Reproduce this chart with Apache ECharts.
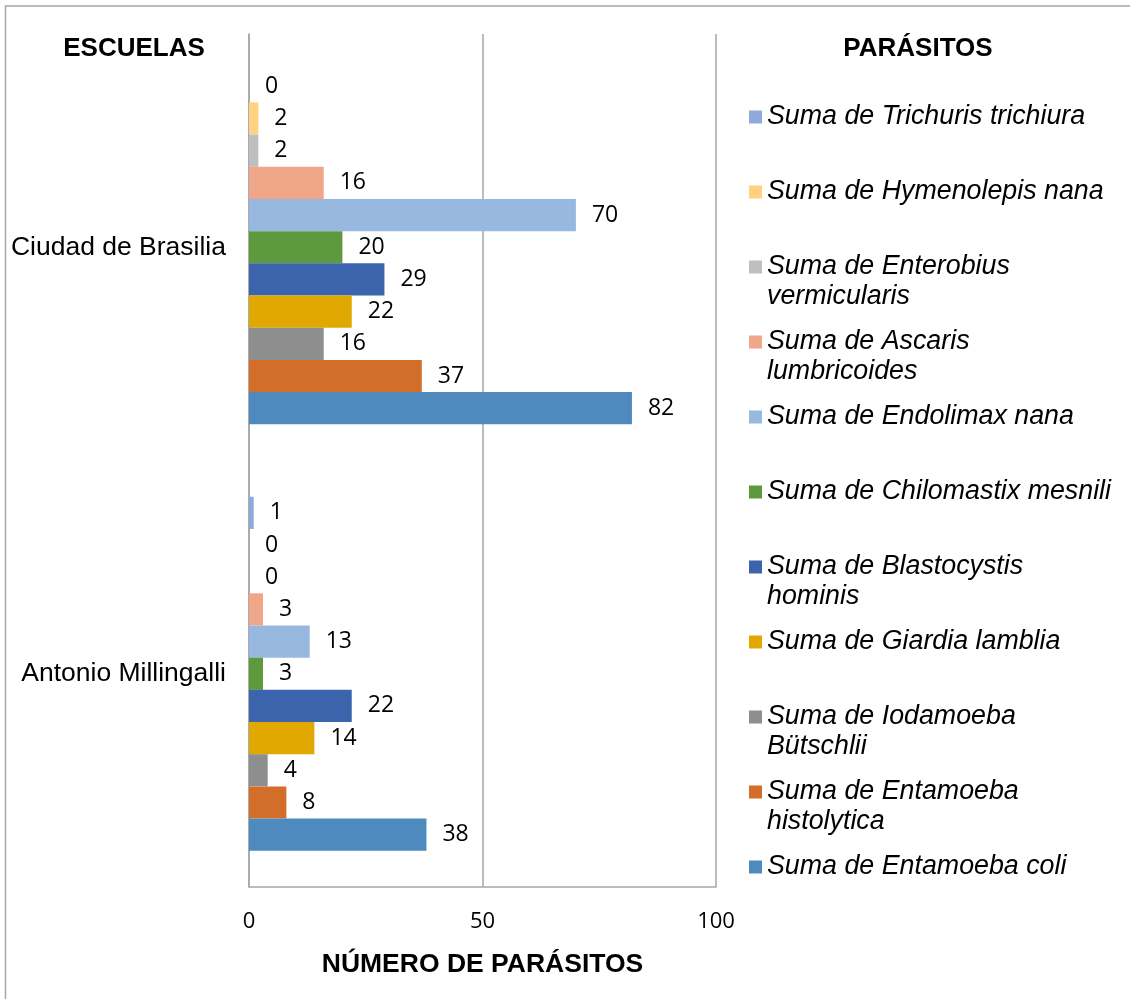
<!DOCTYPE html>
<html>
<head>
<meta charset="utf-8">
<script src="https://cdn.jsdelivr.net/npm/echarts@6/dist/echarts.min.js"></script>
<style>
  html, body { margin: 0; padding: 0; background: #fff; }
  #main { width: 1130px; height: 999px; }
</style>
</head>
<body>
<div id="main"></div>
<script>
// escuelas (de abajo hacia arriba en el eje)
var escuelas = ['Antonio Millingalli', 'Ciudad de Brasilia'];

// parasitos, en el orden de la leyenda (arriba -> abajo)
var parasitos = [
  'Suma de Trichuris trichiura',
  'Suma de Hymenolepis nana',
  'Suma de Enterobius vermicularis',
  'Suma de Ascaris lumbricoides',
  'Suma de Endolimax nana',
  'Suma de Chilomastix mesnili',
  'Suma de Blastocystis hominis',
  'Suma de Giardia lamblia',
  'Suma de Iodamoeba Bütschlii',
  'Suma de Entamoeba histolytica',
  'Suma de Entamoeba coli'
];
// texto de la leyenda con saltos de linea
var textoLeyenda = [
  'Suma de Trichuris trichiura',
  'Suma de Hymenolepis nana',
  'Suma de Enterobius\nvermicularis',
  'Suma de Ascaris\nlumbricoides',
  'Suma de Endolimax nana',
  'Suma de Chilomastix mesnili',
  'Suma de Blastocystis\nhominis',
  'Suma de Giardia lamblia',
  'Suma de Iodamoeba\nBütschlii',
  'Suma de Entamoeba\nhistolytica',
  'Suma de Entamoeba coli'
];

// valores [Antonio Millingalli, Ciudad de Brasilia]
var trichuris    = [1, 0];
var hymenolepis  = [0, 2];
var enterobius   = [0, 2];
var ascaris      = [3, 16];
var endolimax    = [13, 70];
var chilomastix  = [3, 20];
var blastocystis = [22, 29];
var giardia      = [14, 22];
var iodamoeba    = [4, 16];
var histolytica  = [8, 37];
var coli         = [38, 82];

var valores = [trichuris, hymenolepis, enterobius, ascaris, endolimax, chilomastix,
               blastocystis, giardia, iodamoeba, histolytica, coli];

var colores = ['#8EA9DB', '#FFD180', '#BFBFBF', '#F0A688', '#97B9E0', '#5F993E',
               '#3B64AD', '#E0A800', '#8E8E8E', '#D26E2A', '#4E8ABE'];

var myChart = echarts.init(document.getElementById('main'), null, {renderer: 'canvas'});

var series = [];
for (var i = 0; i < parasitos.length; i++) {
  series.push({
    type: 'bar',
    name: parasitos[i],
    data: valores[i],
    barGap: '0%',
    barCategoryGap: '17%',
    itemStyle: { color: colores[i] },
    label: {
      show: true,
      position: 'right',
      distance: 16,
      color: '#000',
      fontFamily: 'Open Sans',
      fontSize: 23
    },
    emphasis: { disabled: true }
  });
}

var option = {
  backgroundColor: '#fff',
  animation: false,
  title: [
    { text: 'ESCUELAS', left: 134, top: 36, textAlign: 'center', padding: 0,
      textStyle: { fontFamily: 'Liberation Sans', fontWeight: 'bold', fontSize: 26, color: '#000' } },
    { text: 'PARÁSITOS', left: 918, top: 36, textAlign: 'center', padding: 0,
      textStyle: { fontFamily: 'Liberation Sans', fontWeight: 'bold', fontSize: 26, color: '#000' } }
  ],
  legend: {
    orient: 'vertical',
    left: 749,
    top: 72,
    padding: 0,
    itemGap: -15,
    itemWidth: 13,
    itemHeight: 13,
    icon: 'rect',
    selectedMode: false,
    data: parasitos,
    // tres lineas por entrada: el cuadro queda en la primera linea de texto
    formatter: function (name) {
      var t = textoLeyenda[parasitos.indexOf(name)];
      return t.indexOf('\n') >= 0 ? ' \n' + t : ' \n' + t + '\n ';
    },
    textStyle: {
      fontFamily: 'Liberation Sans',
      fontStyle: 'italic',
      fontSize: 26.8,
      lineHeight: 30,
      color: '#000'
    }
  },
  grid: {
    left: 249,
    right: 414,
    top: 34,
    bottom: 112,
    containLabel: false
  },
  xAxis: {
    type: 'value',
    min: 0,
    max: 100,
    interval: 50,
    name: 'NÚMERO DE PARÁSITOS',
    nameLocation: 'middle',
    nameGap: 64,
    nameTextStyle: { fontFamily: 'Liberation Sans', fontWeight: 'bold', fontSize: 26.5, color: '#000' },
    axisLine: { show: true, lineStyle: { color: '#A6A6A6', width: 1.5 } },
    axisTick: { show: false },
    axisLabel: { margin: 24, fontFamily: 'Open Sans', fontSize: 22, color: '#000' },
    splitLine: { show: true, lineStyle: { color: '#A6A6A6', width: 1.5 } }
  },
  yAxis: {
    type: 'category',
    data: escuelas,
    axisLine: { show: true, lineStyle: { color: '#A6A6A6', width: 1.5 } },
    axisTick: { show: false },
    axisLabel: { margin: 23, fontFamily: 'Liberation Sans', fontSize: 26.5, color: '#000' }
  },
  graphic: [{
    type: 'polyline',
    silent: true,
    shape: { points: [[5.5, 999], [5.5, 6], [1130, 6]] },
    style: { stroke: '#A6A6A6', lineWidth: 1.5, fill: null }
  }],
  series: series
};

myChart.setOption(option);
</script>
</body>
</html>
